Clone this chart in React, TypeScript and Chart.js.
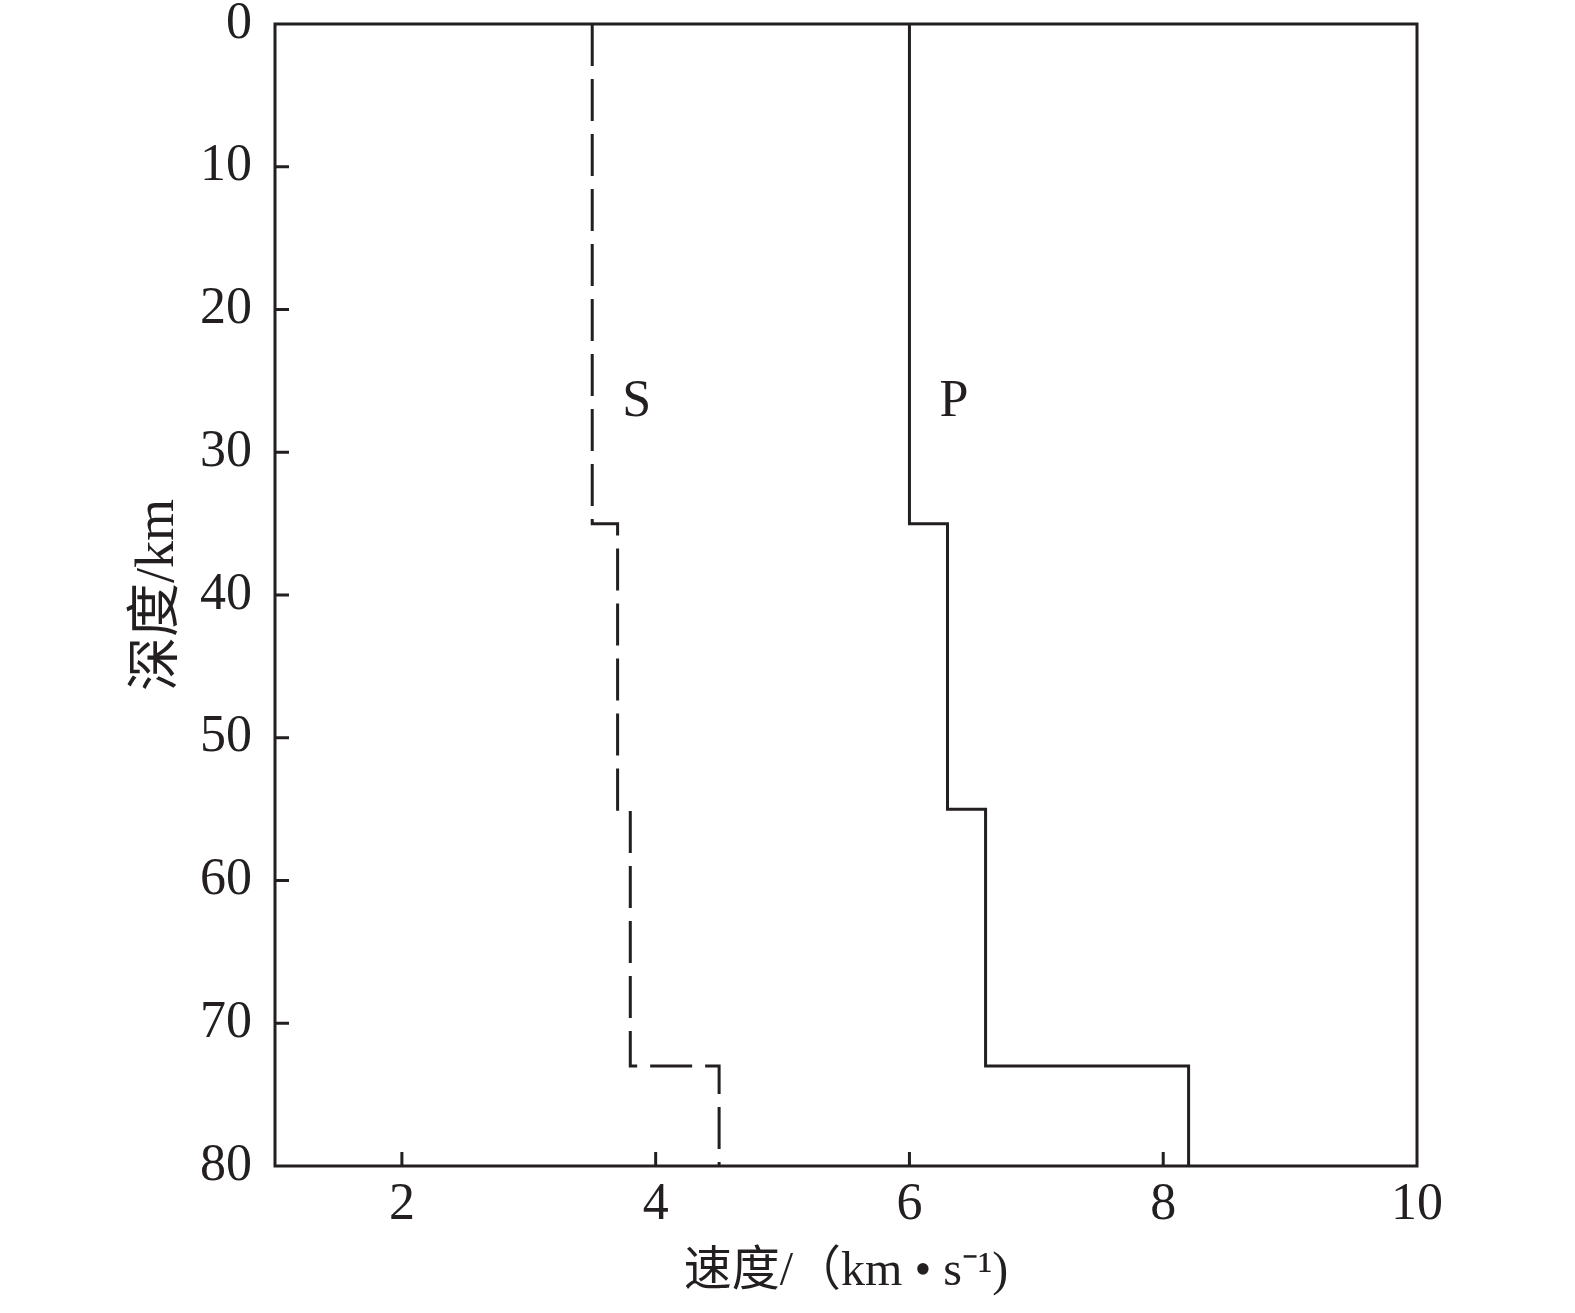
import React, { useEffect, useRef } from "react";
import { Chart, registerables } from "chart.js";

Chart.register(...registerables);

// Layer boundaries (depth, km) and layer velocities (km/s)
const depthBounds = [0, 35, 55, 73, 80];
const sVelocity = [3.5, 3.7, 3.8, 4.5];
const pVelocity = [6.0, 6.3, 6.6, 8.2];

const xTicks = [2, 4, 6, 8, 10];
const yTicks = [0, 10, 20, 30, 40, 50, 60, 70, 80];

const xTitle = "速度/（km • s⁻¹)";
const yTitle = "深度/km";

const curveLabels = [
  { text: "S", x: 3.85, y: 26.5 },
  { text: "P", x: 6.35, y: 26.5 },
];

const INK = "#231f20";
const FONT = "'Liberation Serif', 'Noto Sans CJK SC', serif";

function stepProfile(vels: number[]) {
  const pts: { x: number; y: number }[] = [];
  vels.forEach((v, i) => {
    pts.push({ x: v, y: depthBounds[i] });
    pts.push({ x: v, y: depthBounds[i + 1] });
  });
  return pts;
}

const framePlugin = {
  id: "frameAndTicks",
  afterDraw(chart: any) {
    const { ctx, chartArea } = chart;
    const xs = chart.scales.x;
    const ys = chart.scales.y;
    ctx.save();
    ctx.strokeStyle = INK;
    ctx.lineWidth = 3;
    ctx.strokeRect(chartArea.left, chartArea.top, chartArea.right - chartArea.left, chartArea.bottom - chartArea.top);
    ctx.beginPath();
    xTicks.forEach((v) => {
      if (v === 10) return;
      const px = xs.getPixelForValue(v);
      ctx.moveTo(px, chartArea.bottom);
      ctx.lineTo(px, chartArea.bottom - 14);
    });
    yTicks.forEach((v) => {
      if (v === 0 || v === 80) return;
      const py = ys.getPixelForValue(v);
      ctx.moveTo(chartArea.left, py);
      ctx.lineTo(chartArea.left + 14, py);
    });
    ctx.stroke();
    ctx.fillStyle = INK;
    ctx.font = `52px ${FONT}`;
    ctx.textAlign = "center";
    ctx.textBaseline = "middle";
    curveLabels.forEach((l) => {
      ctx.fillText(l.text, xs.getPixelForValue(l.x), ys.getPixelForValue(l.y));
    });
    ctx.restore();
  },
};

export default function App() {
  const ref = useRef<HTMLCanvasElement | null>(null);
  useEffect(() => {
    if (!ref.current) return;
    const chart = new Chart(ref.current, {
      type: "line",
      data: {
        datasets: [
          {
            label: "S",
            data: stepProfile(sVelocity),
            borderColor: INK,
            borderWidth: 3,
            borderDash: [42, 13],
            pointRadius: 0,
            fill: false,
            tension: 0,
          },
          {
            label: "P",
            data: stepProfile(pVelocity),
            borderColor: INK,
            borderWidth: 3,
            pointRadius: 0,
            fill: false,
            tension: 0,
          },
        ],
      },
      options: {
        animation: false,
        responsive: true,
        maintainAspectRatio: false,
        layout: { padding: { left: 0, top: 24, right: 158, bottom: 0 } },
        plugins: { legend: { display: false }, tooltip: { enabled: false } },
        scales: {
          x: {
            type: "linear",
            min: 1,
            max: 10,
            border: { display: false },
            grid: { display: false, drawTicks: false },
            afterBuildTicks: (s: any) => {
              s.ticks = xTicks.map((v) => ({ value: v }));
            },
            afterFit: (s: any) => {
              s.height = 147;
              s.paddingLeft = 0;
              s.paddingRight = 0;
            },
            ticks: {
              color: INK,
              font: { family: FONT, size: 52, lineHeight: 1 },
              padding: 13,
              maxRotation: 0,
            },
            title: {
              display: true,
              text: xTitle,
              color: INK,
              font: { family: FONT, size: 48, lineHeight: 1 },
              padding: { top: 0, bottom: 17 },
            },
          },
          y: {
            type: "linear",
            min: 0,
            max: 80,
            reverse: true,
            border: { display: false },
            grid: { display: false, drawTicks: false },
            afterBuildTicks: (s: any) => {
              s.ticks = yTicks.map((v) => ({ value: v }));
            },
            afterFit: (s: any) => {
              s.width = 275;
              s.paddingTop = 0;
              s.paddingBottom = 0;
            },
            ticks: {
              color: INK,
              font: { family: FONT, size: 52, lineHeight: 1 },
              padding: 23,
            },
            title: {
              display: true,
              text: yTitle,
              color: INK,
              font: { family: FONT, size: 54, lineHeight: 1 },
              padding: { top: 132, bottom: 0 },
            },
          },
        },
      },
      plugins: [framePlugin],
    });
    return () => chart.destroy();
  }, []);
  return (
    <div style={{ position: "absolute", left: 0, top: 0, width: 1575, height: 1313 }}>
      <canvas ref={ref} />
    </div>
  );
}
